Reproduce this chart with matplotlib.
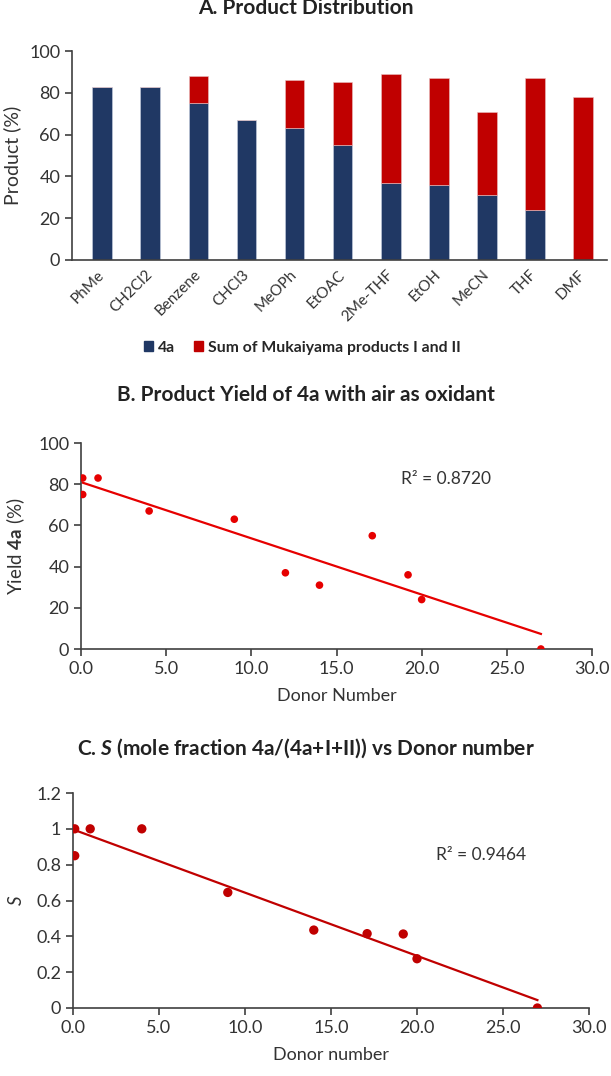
import matplotlib.pyplot as plt
import numpy as np
from matplotlib.ticker import FuncFormatter, MultipleLocator
from matplotlib.patches import Patch

plt.rcParams['font.family'] = ['Lato', 'DejaVu Sans']
plt.rcParams['mathtext.fontset'] = 'custom'
plt.rcParams['mathtext.rm'] = 'Lato'
plt.rcParams['mathtext.bf'] = 'Lato:bold'
plt.rcParams['mathtext.it'] = 'Lato:italic'
plt.rcParams['mathtext.sf'] = 'Lato:bold:italic'

# A. product distribution
solvents = ['PhMe', 'CH2Cl2', 'Benzene', 'CHCl3', 'MeOPh', 'EtOAC',
            '2Me-THF', 'EtOH', 'MeCN', 'THF', 'DMF']
yield_4a = [83, 83, 75, 67, 63, 55, 37, 36, 31, 24, 0]
mukaiyama = [0, 0, 13, 0, 23, 30, 52, 51, 40, 63, 78]

# B. yield of 4a vs donor number
dn_b = [0.1, 0.1, 1.0, 4.0, 9.0, 12.0, 14.0, 17.1, 19.2, 20.0, 27.0]
yield_b = [83, 75, 83, 67, 63, 37, 31, 55, 36, 24, 0]

# C. S vs donor number
dn_c = [0.1, 0.1, 1.0, 4.0, 9.0, 14.0, 17.1, 19.2, 20.0, 27.0]
s_c = [1.0, 0.85, 1.0, 1.0, 0.645, 0.435, 0.415, 0.413, 0.275, 0.0]

navy = '#203864'
darkred = '#C00000'
red = '#E60000'
grey = '#404040'
txt = '#333333'
W, H = 611, 1076

fig = plt.figure(figsize=(W / 100, H / 100), dpi=100)


def box(left, right, top, bottom):
    # pixel edges -> figure fraction rect
    return [left / W, 1 - bottom / H, (right - left) / W, (bottom - top) / H]


def style(ax):
    for s in ['top', 'right']:
        ax.spines[s].set_visible(False)
    for s in ['left', 'bottom']:
        ax.spines[s].set_color(grey)
        ax.spines[s].set_linewidth(1.2)
    ax.tick_params(colors=grey, labelcolor=txt, labelsize=13, length=5, width=1.2)


def title(y, s):
    fig.text(0.5, 1 - y / H, s, fontsize=15, fontweight='bold', color='#222222',
             ha='center', va='center')


# ---- panel A
ax1 = fig.add_axes(box(72, 607, 51, 260))
x = np.arange(len(solvents))
ax1.bar(x, yield_4a, width=0.41, color=navy, edgecolor='#c8d0e0', linewidth=0.4)
ax1.bar(x, mukaiyama, width=0.41, bottom=yield_4a, color=darkred, edgecolor='#e8c0c0',
        linewidth=0.4)
ax1.set_xlim(-0.63, 10.5)
ax1.set_ylim(0, 100)
ax1.yaxis.set_major_locator(MultipleLocator(20))
style(ax1)
ax1.tick_params(axis='x', length=0, pad=9)
ax1.set_xticks(x)
ax1.set_xticklabels(solvents, rotation=45, ha='right', va='center', rotation_mode='anchor',
                    fontsize=11)
ax1.set_ylabel('Product (%)', fontsize=14, color=txt, labelpad=6)
title(8, 'A. Product Distribution')
handles = [Patch(color=navy, label='4a'), Patch(color=darkred, label='Sum of Mukaiyama products I and II')]
leg = fig.legend(handles=handles, loc='center', bbox_to_anchor=(302 / W, 1 - 348 / H), ncol=2,
                 frameon=False, handlelength=0.6, handleheight=0.6, handletextpad=0.3,
                 columnspacing=1.2, prop={'weight': 'bold', 'size': 11.3})
for t in leg.get_texts():
    t.set_color('#262626')

# ---- panel B
ax2 = fig.add_axes(box(81, 592, 443, 649))
ax2.scatter(dn_b, yield_b, s=30, color=red, zorder=3, edgecolors='none')
k, b = np.polyfit(dn_b, yield_b, 1)
xl = np.array([min(dn_b), max(dn_b)])
ax2.plot(xl, k * xl + b, color=red, lw=1.6)
ax2.set_xlim(0, 30)
ax2.set_ylim(0, 100)
ax2.xaxis.set_major_locator(MultipleLocator(5))
ax2.yaxis.set_major_locator(MultipleLocator(20))
ax2.xaxis.set_major_formatter(FuncFormatter(lambda v, p: f'{v:.1f}'))
style(ax2)
ax2.set_xlabel('Donor Number', fontsize=13, color=txt, labelpad=8)
ax2.set_ylabel(r'Yield $\mathbf{4a}$ (%)', fontsize=13.5, color=txt, labelpad=8)
title(395, 'B. Product Yield of 4a with air as oxidant')
ax2.text(21.4, 82.5, 'R² = 0.8720', fontsize=12.5, color=txt, ha='center', va='center')

# ---- panel C
ax3 = fig.add_axes(box(73, 589, 793, 1008))
ax3.scatter(dn_c, s_c, s=45, color=darkred, zorder=3, edgecolors='none')
k, b = np.polyfit(dn_c, s_c, 1)
xl = np.array([min(dn_c), max(dn_c)])
ax3.plot(xl, k * xl + b, color=darkred, lw=1.6)
ax3.set_xlim(0, 30)
ax3.set_ylim(0, 1.2)
ax3.xaxis.set_major_locator(MultipleLocator(5))
ax3.yaxis.set_major_locator(MultipleLocator(0.2))
ax3.xaxis.set_major_formatter(FuncFormatter(lambda v, p: f'{v:.1f}'))
ax3.yaxis.set_major_formatter(FuncFormatter(lambda v, p: f'{round(v, 1):g}'))
style(ax3)
ax3.set_xlabel('Donor number', fontsize=13, color=txt, labelpad=8)
ax3.set_ylabel(r'$\mathit{S}$', fontsize=13.5, color=txt, labelpad=8)
title(748, r'C. $\mathsf{S}$ (mole fraction 4a/(4a+I+II)) vs Donor number')
ax3.text(23.7, 0.854, 'R² = 0.9464', fontsize=12.5, color=txt, ha='center', va='center')

fig.savefig('out.png', dpi=100)
